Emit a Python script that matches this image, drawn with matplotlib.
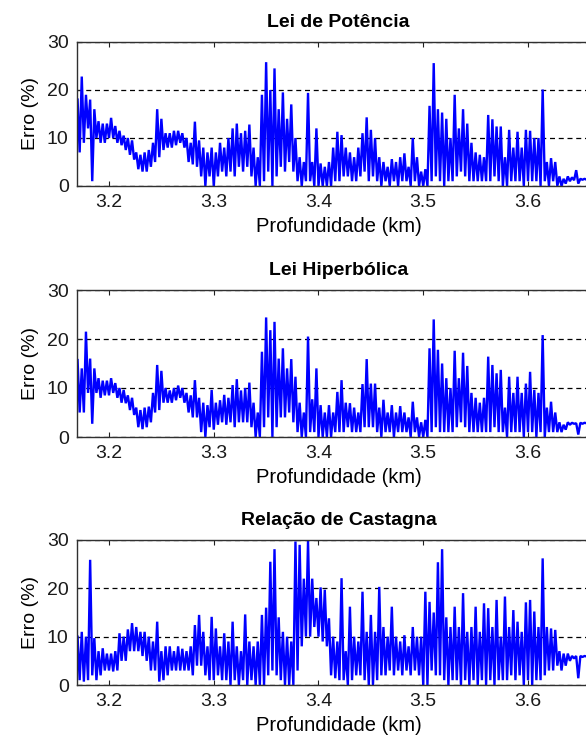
import matplotlib.pyplot as plt
import numpy as np

plt.rcParams['font.family'] = ['Liberation Sans', 'DejaVu Sans']

# depth grid: one bucket every 4 m, starting at 3.170 km
depth0 = 3.170
step = 0.004

titles = ["Lei de Potência", "Lei Hiperbólica", "Relação de Castagna"]
xticks = [3.2, 3.3, 3.4, 3.5, 3.6]
yticks = [0, 10, 20, 30]

# error (%) envelope per bucket: low / high values
pot_lo = [7, 9, 12, 1, 10, 9, 9, 10, 10, 9, 8.5, 7.5, 6.5, 5.5, 3.5, 3, 3, 4, 5, 6,
          7.5, 8, 8, 8.5, 9, 8, 5, 4.5, 4, 2, 0, 2, 0, 2, 3, 2, 3, 2, 4, 3,
          4, 2, 0, 0, 1, 3, 0, 2, 4, 3, 5, 3, 1, 0, 1, 1, 0, 0, 0, 0,
          0, 1, 1, 2, 2, 1, 1, 2, 3, 1, 2, 1, 0, 1, 0, 1, 0, 1, 1, 0,
          1, 0, 0, 0, 1, 2, 1, 0, 1, 1, 2, 3, 2, 1, 1, 1, 1, 1, 1, 2,
          1, 0, 0, 1, 1, 1, 0, 1, 1, 1, 0, 1, 0, 1, 0, 0, 0.5, 1, 1.2, 0.5,
          1.3, 1.3, 1.3]
pot_hi = [18, 22.8, 19, 18, 16, 13.5, 13, 13, 14.2, 12.5, 11.5, 10.5, 10, 9.5, 7, 6.5, 7, 7.5, 9, 16,
          14, 11, 11, 11.5, 11.5, 11, 10, 9, 13.4, 9.5, 8, 7, 8, 7, 9, 8, 10, 12, 13, 11,
          11.5, 12.8, 8, 6, 19, 25.8, 20, 24.5, 16, 19.5, 14, 17, 10, 6, 5, 19.4, 5, 12, 4.7, 4,
          5, 8, 11.3, 10.6, 8, 7, 6, 8, 11, 14.3, 11.7, 10, 6, 5, 4, 5.6, 5, 6, 6.8, 4,
          10, 6, 3, 3.5, 16.7, 25.6, 16, 15.3, 14, 10, 19, 12, 16, 13, 9, 7, 6.5, 6, 14.8, 13.9,
          12.4, 12.4, 6, 11.7, 8, 11.3, 8, 11.7, 11.5, 10, 10, 20.1, 5, 5.8, 5, 2, 1.5, 2, 1.8, 3.3,
          1.5, 1.5, 1.5]

hip_lo = [5, 5, 9, 2.7, 9, 8, 8.5, 8.5, 9, 8, 7, 6.9, 5.5, 4.5, 2, 1.6, 2, 3, 5, 5.5,
          7, 7, 7, 7.5, 8, 7, 5, 4, 4, 1, 0, 2, 1.5, 2.5, 3, 2.5, 3, 2, 3, 3,
          3, 2, 0, 0, 2, 4, 0, 2, 4, 4, 5, 3, 1, 0, 0, 1, 1, 0, 0, 0,
          0, 1, 1, 1, 2, 1, 1, 1, 2, 2, 2, 1, 0, 1, 1, 0, 1, 1, 1, 0,
          1, 0, 0, 0, 1, 2, 1, 1, 1, 1, 2, 3, 2, 1, 1, 1, 1, 1, 1, 2,
          1, 1, 0, 1, 1, 1, 0, 1, 1, 0, 1, 0, 1, 1, 1, 1, 1.5, 2.5, 2.7, 0.5,
          2.7, 2.8, 2.8]
hip_hi = [15.7, 14, 21.5, 16, 14, 12, 11.5, 11.5, 12, 11, 10, 9.6, 8.5, 8, 6, 5.5, 6, 6.2, 9, 14.7,
          13.5, 10, 9.5, 10, 10.5, 10, 9, 8.5, 11.6, 8, 7, 6.5, 9.6, 7, 7.5, 8.6, 8, 10.6, 11.8, 9.5,
          10, 11.1, 7, 5, 17.4, 24.4, 21.8, 23.5, 16, 18.1, 14, 15.9, 12.3, 7, 5, 20.5, 7.7, 14, 6.5, 5,
          6.5, 5, 9.2, 11.6, 7, 6.9, 6, 5, 10.8, 15.9, 10.9, 10.9, 6, 7.6, 5, 6.5, 5, 6.3, 5, 4,
          7.2, 4, 3, 3.5, 18.1, 24, 17.8, 15, 12, 10, 17.6, 12, 17.2, 14.5, 9, 8, 7, 8, 16.4, 14.7,
          13, 13.7, 6, 12.3, 9, 12.3, 9, 10.9, 13.3, 9.6, 9, 20.8, 6, 7.2, 5, 3, 2.5, 3, 2.9, 2.8,
          2.9, 2.9, 2.9]

cas_lo = [1, 0.7, 1, 2, 1, 2, 3, 3, 2.8, 3, 5, 5, 7, 7, 7, 6, 5, 3, 3, 0.7,
          1, 2, 3, 3, 3, 3, 3, 2, 4, 4, 2, 1, 1, 2, 1, 1, 0, 1, 0, 1,
          0, 1, 0, 0, 0, 2, 3, 2, 1, 0, 0, 0, 3, 8, 10, 10, 12, 10, 9, 8,
          2, 1.4, 1, 1, 0, 1, 2, 2, 1, 0, 0, 1, 2, 2, 3, 2, 3, 2, 3, 2,
          3, 2, 0, 0, 3, 2, 2, 1, 0, 1, 1, 0, 1, 0, 1, 0, 1, 0, 1, 0,
          1, 1, 1, 2, 1, 2, 0, 1, 0, 1, 1, 2, 3, 3, 4, 3, 4, 5, 5.5, 1.4,
          5.8, 5.9, 5.9]
cas_hi = [10, 11, 10, 25.9, 9.7, 7, 7.6, 6.5, 6.5, 7, 10.7, 10, 11.5, 12.8, 12, 11, 11, 10, 9, 13.1,
          7, 8, 8, 7, 8, 7.5, 7, 8, 12.4, 14.5, 11, 8, 14.1, 11.7, 8, 10.7, 9, 13.1, 8, 7,
          14.6, 9, 8, 9, 14.5, 16, 25.5, 28.1, 14, 11, 10, 9, 29.7, 29, 22, 29.8, 22, 18, 20.2, 19.7,
          13.8, 10, 9, 22.1, 7, 16.2, 10, 9, 19.3, 11, 14.5, 11, 20.3, 12, 10, 16.2, 10, 9, 10.3, 8,
          12, 10, 10, 19.3, 17.2, 15, 25.4, 28.1, 14, 12, 16.2, 12, 19, 11, 12, 16.2, 11, 16.9, 15.9, 12,
          17.6, 10, 18.3, 12, 15.5, 13.1, 11, 17.1, 17.6, 15.2, 12, 26.2, 12, 11.7, 11.4, 7, 6.5, 6.5, 6, 6,
          6, 6, 6]

series = [(pot_lo, pot_hi), (hip_lo, hip_hi), (cas_lo, cas_hi)]


def zigzag(lo, hi):
    # alternate high and low of each bucket to draw the noisy trace
    d = depth0 + step * np.arange(len(lo))
    x = np.column_stack([d, d + step / 2]).ravel()
    y = np.column_stack([hi, lo]).ravel()
    return x, y


fig = plt.figure(figsize=(5.86, 7.44), dpi=100)

# axes boxes in pixels (top, bottom); right edge runs past the figure
boxes = [(42, 186), (290, 437), (540, 685)]
left_px, right_px = 77, 600
x_left = 3.2 + (left_px - 109) / 1047.5
x_right = 3.2 + (right_px - 109) / 1047.5

for (top, bot), title, (lo, hi) in zip(boxes, titles, series):
    ax = fig.add_axes([left_px / 586, 1 - bot / 744, (right_px - left_px) / 586, (bot - top) / 744])
    x, y = zigzag(lo, hi)
    ax.plot(x, y, color=(0, 0, 1), linewidth=1.7, solid_joinstyle='bevel')
    ax.set_xlim(x_left, x_right)
    ax.set_ylim(0, 30)
    ax.set_xticks(xticks)
    ax.set_yticks(yticks)
    ax.set_xticklabels([f"{t:.1f}" for t in xticks])
    ax.yaxis.grid(True, linestyle=(0, (4, 3)), color='k', linewidth=0.9)
    ax.tick_params(direction='in', top=True, right=True, length=3.5, labelsize=14, pad=6,
                   colors='#202020', labelcolor='#1a1a1a')
    for s in ax.spines.values():
        s.set_color('#303030')
        s.set_linewidth(1.0)
    ax.set_title(title, fontsize=14, fontweight='bold', pad=11)
    ax.set_xlabel('Profundidade (km)', fontsize=14.5, labelpad=4)
    ax.set_ylabel('Erro (%)', fontsize=14, labelpad=6)

fig.savefig('out.png', dpi=100)
